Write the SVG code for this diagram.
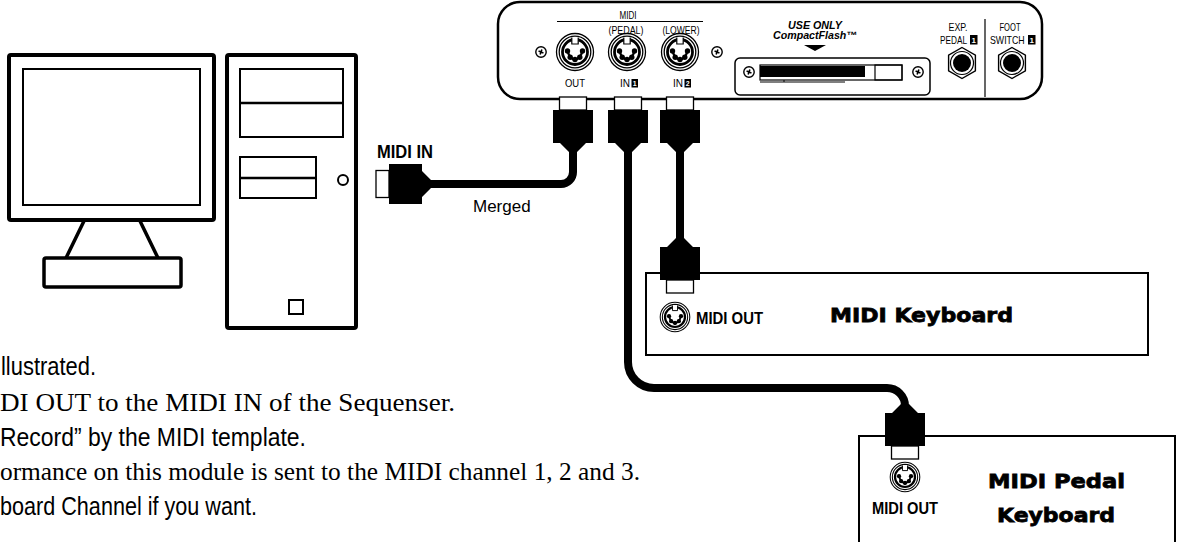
<svg xmlns="http://www.w3.org/2000/svg" width="1182" height="542" viewBox="0 0 1182 542">
  <style>
    .ln{fill:none;stroke:#000}
    .wf{fill:#fff;stroke:#000}
    .sans{font-family:"Liberation Sans",Arial,sans-serif}
    .bold{font-family:"Liberation Sans",Arial,sans-serif;font-weight:bold}
    .heavy{font-family:"DejaVu Sans","Liberation Sans",sans-serif;font-weight:bold;stroke:#000;stroke-width:0.8}
    .serif{font-family:"Liberation Serif","Times New Roman",serif}
    .cable{fill:none;stroke:#000;stroke-width:8}
    .tiny{font-family:"Liberation Sans",Arial,sans-serif;font-size:10px}
    .lbl{font-family:"Liberation Sans",Arial,sans-serif;font-size:11px}
    .num{font-family:"Liberation Sans",Arial,sans-serif;font-weight:bold;font-size:7px;fill:#fff}
    .num2{font-family:"Liberation Sans",Arial,sans-serif;font-weight:bold;font-size:8px;fill:#fff}
  </style>
  <defs>
    <!-- 5-pin DIN socket -->
    <g id="din">
      <circle r="18.5" class="wf" stroke-width="1.3"/>
      <circle r="15.8" class="ln" stroke-width="1.3"/>
      <circle r="12.5" class="ln" stroke-width="2.8"/>
      <rect x="-3.2" y="-15" width="6.4" height="7" fill="#fff"/>
      <path d="M-3.2,-14.5V-8H3.2V-14.5" class="ln" stroke-width="1.2"/>
      <path d="M-7.5,-1Q-5,7.5 0,7.5Q5,7.5 7.5,-1" class="ln" stroke-width="2.4"/>
      <circle cx="-7.5" cy="-1" r="2.7"/>
      <circle cx="7.5" cy="-1" r="2.7"/>
      <circle cx="-4.8" cy="5.2" r="2.7"/>
      <circle cx="4.8" cy="5.2" r="2.7"/>
      <circle cx="0" cy="7.5" r="2.7"/>
    </g>
    <!-- mounting screw -->
    <g id="screw">
      <circle r="5.2" class="wf" stroke-width="1.4"/>
      <path d="M-2.6,0H2.6M0,-2.6V2.6" class="ln" stroke-width="1.6" transform="rotate(20)"/>
    </g>
    <!-- 1/4" jack with hex nut -->
    <g id="jack">
      <path d="M0,-15.5L13.4,-7.75V7.75L0,15.5L-13.4,7.75V-7.75Z" class="wf" stroke-width="1.4"/>
      <circle r="11.5" class="ln" stroke-width="1.2"/>
      <circle r="9"/>
    </g>
    <!-- MIDI plug: shell at top, cable leaves at bottom (y=55) -->
    <g id="plug">
      <rect x="-13.5" y="0" width="27" height="13" class="wf" stroke-width="1.3"/>
      <path d="M-20,13H20V46H13L4,55H-4L-13,46H-20Z"/>
    </g>
  </defs>

  <!-- Monitor -->
  <g id="monitor" class="ln">
    <rect x="9" y="55" width="205" height="165" rx="2" stroke-width="4"/>
    <rect x="23" y="69" width="177" height="136" stroke-width="2"/>
    <path d="M84,221L66,258M140,221L158,258" stroke-width="3.5"/>
    <rect x="44" y="258" width="137" height="29" rx="2" stroke-width="3.5"/>
  </g>

  <!-- Computer tower -->
  <g id="tower" class="ln">
    <rect x="227" y="55" width="129" height="273" rx="2" stroke-width="4"/>
    <rect x="240" y="69" width="103" height="68" stroke-width="2"/>
    <path d="M240,103H343" stroke-width="2.5"/>
    <rect x="240" y="157" width="76" height="41" stroke-width="2"/>
    <path d="M240,178H316" stroke-width="2.5"/>
    <circle cx="343" cy="180" r="5" stroke-width="2"/>
    <rect x="289" y="300" width="14" height="14" stroke-width="2"/>
  </g>

  <!-- Module rear panel -->
  <g id="panel">
    <path d="M520,2H1020A22,22 0 0 1 1042,24V77A22,22 0 0 1 1020,99H520A22,22 0 0 1 498,77V24A22,22 0 0 1 520,2Z" class="wf" stroke-width="2.5"/>
    <text class="tiny" x="628" y="19" text-anchor="middle" textLength="17" lengthAdjust="spacingAndGlyphs">MIDI</text>
    <path d="M557,21.5H703" class="ln" stroke-width="1"/>
    <text class="tiny" x="626" y="34" text-anchor="middle" textLength="35" lengthAdjust="spacingAndGlyphs">(PEDAL)</text>
    <text class="tiny" x="681" y="34" text-anchor="middle" textLength="37" lengthAdjust="spacingAndGlyphs">(LOWER)</text>
    <use href="#screw" x="541" y="52"/>
    <use href="#din" x="575" y="52"/>
    <use href="#din" x="627" y="52"/>
    <use href="#din" x="680" y="52"/>
    <use href="#screw" x="717" y="52"/>
    <text class="tiny" x="575" y="87" text-anchor="middle" textLength="20" lengthAdjust="spacingAndGlyphs">OUT</text>
    <text class="tiny" x="620" y="87" textLength="10" lengthAdjust="spacingAndGlyphs">IN</text>
    <rect x="631.5" y="79" width="6.5" height="8.5"/>
    <text class="num" x="634.75" y="86" text-anchor="middle">1</text>
    <text class="tiny" x="673" y="87" textLength="10" lengthAdjust="spacingAndGlyphs">IN</text>
    <rect x="684.5" y="79" width="6.5" height="8.5"/>
    <text class="num" x="687.75" y="86" text-anchor="middle">2</text>

    <!-- CompactFlash slot -->
    <text class="bold" x="815" y="29" text-anchor="middle" font-size="10.5" font-style="italic" textLength="54" lengthAdjust="spacingAndGlyphs">USE ONLY</text>
    <text class="bold" x="815" y="39" text-anchor="middle" font-size="10.5" font-style="italic" textLength="84" lengthAdjust="spacingAndGlyphs">CompactFlash™</text>
    <path d="M804,45H826L815,51Z"/>
    <rect x="735" y="58" width="195" height="37" rx="5" class="ln" stroke-width="1.5"/>
    <use href="#screw" x="749" y="72"/>
    <use href="#screw" x="918" y="72"/>
    <rect x="760" y="65" width="142" height="15" class="ln" stroke-width="1.2"/>
    <rect x="760" y="66" width="105" height="11"/>
    <rect x="875" y="65" width="27" height="15" class="ln" stroke-width="1.2"/>
    <path d="M760,82H845M784,80V82" class="ln" stroke-width="1"/>

    <!-- Pedal / footswitch jacks -->
    <text class="lbl" x="958" y="31" text-anchor="middle" textLength="19" lengthAdjust="spacingAndGlyphs">EXP.</text>
    <text class="lbl" transform="translate(940,44) scale(0.75,1)">PEDAL</text>
    <rect x="970" y="35" width="7.5" height="9.5"/>
    <text class="num2" x="973.75" y="42.5" text-anchor="middle">1</text>
    <path d="M985,19V97" class="ln" stroke-width="1.2"/>
    <text class="lbl" x="1010" y="31" text-anchor="middle" textLength="21" lengthAdjust="spacingAndGlyphs">FOOT</text>
    <text class="lbl" transform="translate(990,44) scale(0.8,1)">SWITCH</text>
    <rect x="1028" y="35" width="7.5" height="9.5"/>
    <text class="num2" x="1031.75" y="42.5" text-anchor="middle">1</text>
    <use href="#jack" x="962" y="63"/>
    <use href="#jack" x="1012" y="63"/>
  </g>

  <!-- MIDI keyboard -->
  <g id="midi-keyboard">
    <rect x="646" y="273" width="502" height="82" class="wf" stroke-width="2"/>
    <use href="#din" transform="translate(675,317) scale(0.8)"/>
    <text class="bold" x="696" y="324" font-size="17" textLength="67" lengthAdjust="spacingAndGlyphs">MIDI OUT</text>
    <text class="heavy" x="830" y="322" font-size="20" textLength="183" lengthAdjust="spacingAndGlyphs">MIDI Keyboard</text>
  </g>

  <!-- MIDI pedal keyboard -->
  <g id="midi-pedal">
    <rect x="859" y="436" width="316" height="130" class="wf" stroke-width="2"/>
    <use href="#din" transform="translate(905,477) scale(0.8)"/>
    <text class="bold" x="872" y="514" font-size="17" textLength="66" lengthAdjust="spacingAndGlyphs">MIDI OUT</text>
    <text class="heavy" x="988" y="488" font-size="20" textLength="137" lengthAdjust="spacingAndGlyphs">MIDI Pedal</text>
    <text class="heavy" x="997" y="522" font-size="20" textLength="118" lengthAdjust="spacingAndGlyphs">Keyboard</text>
  </g>

  <!-- Cables and plugs -->
  <g id="connectors">
    <path class="cable" d="M573,150V172A12,12 0 0 1 561,184H428"/>
    <path class="cable" d="M628,150V362A26,26 0 0 0 654,388H887A18,18 0 0 1 905,406"/>
    <path class="cable" d="M680,150V242"/>
    <use href="#plug" transform="translate(573,97)"/>
    <use href="#plug" transform="translate(628,97)"/>
    <use href="#plug" transform="translate(680,97)"/>
    <use href="#plug" transform="translate(376,184) rotate(-90)"/>
    <use href="#plug" transform="translate(680,293) scale(1,-1)"/>
    <use href="#plug" transform="translate(905,459) scale(1,-1)"/>
  </g>

  <!-- Cable labels -->
  <text class="bold" x="377" y="158" font-size="19" textLength="56" lengthAdjust="spacingAndGlyphs">MIDI IN</text>
  <text class="sans" x="473" y="212" font-size="17">Merged</text>

  <!-- Notes -->
  <g id="notes">
    <text class="sans" x="1" y="375" font-size="26" textLength="95" lengthAdjust="spacingAndGlyphs">llustrated.</text>
    <text class="serif" x="0" y="411" font-size="25" textLength="455" lengthAdjust="spacingAndGlyphs">DI OUT to the MIDI IN of the Sequenser.</text>
    <text class="sans" x="0" y="446" font-size="26" textLength="306" lengthAdjust="spacingAndGlyphs">Record” by the MIDI template.</text>
    <text class="serif" x="0" y="480" font-size="25" textLength="640" lengthAdjust="spacingAndGlyphs">ormance on this module is sent to the MIDI channel 1, 2 and 3.</text>
    <text class="sans" x="0" y="515" font-size="26" textLength="257" lengthAdjust="spacingAndGlyphs">board Channel if you want.</text>
  </g>
</svg>
